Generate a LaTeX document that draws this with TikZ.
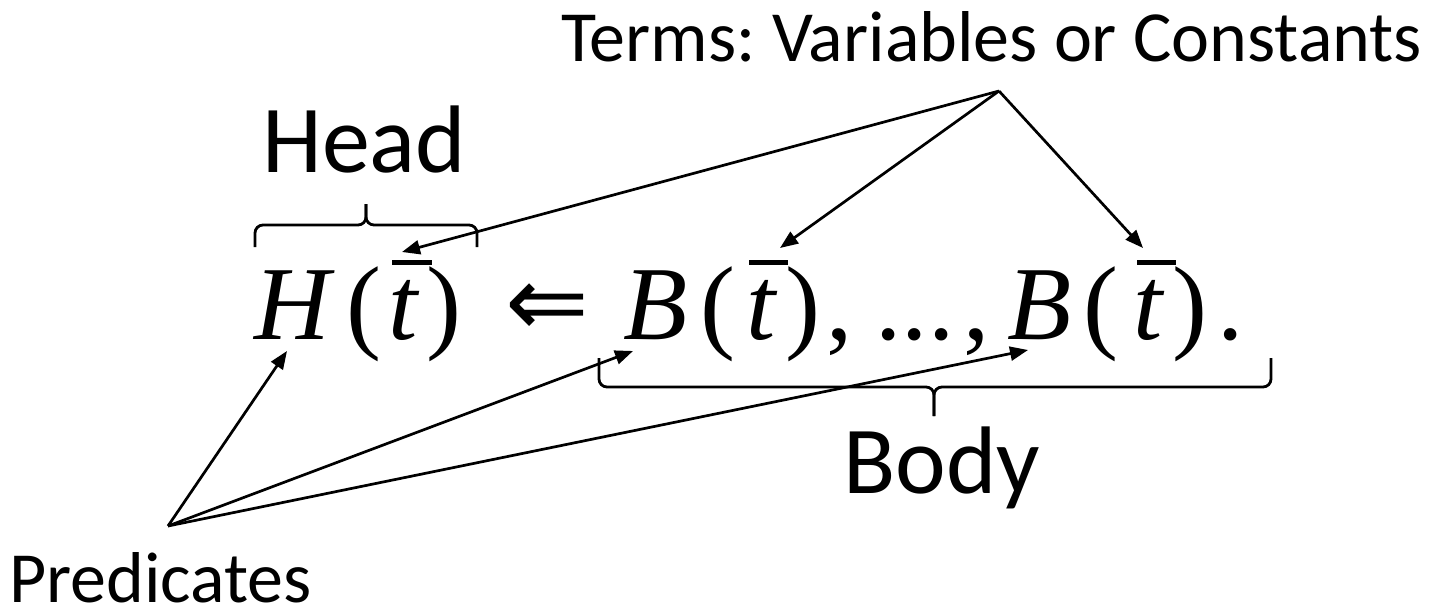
\documentclass[tikz,border=0pt]{standalone}
\usepackage{fontspec}
\setmainfont{Carlito}
\newfontfamily\formfont{Liberation Serif}
\newfontfamily\symfont{DejaVu Sans}
\frenchspacing
\usetikzlibrary{arrows.meta}
\tikzset{
  lbl/.style={inner sep=0pt, anchor=base west, font=\fontsize{72}{72}\selectfont},
  biglbl/.style={inner sep=0pt, anchor=base west, font=\fontsize{96}{96}\selectfont},
  glyph/.style={inner sep=0pt, anchor=base, font=\formfont\fontsize{105}{105}\selectfont},
  iglyph/.style={glyph, font=\formfont\itshape\fontsize{105}{105}\selectfont},
  arr/.style={line width=2.7pt, -{Triangle[length=18pt,width=14pt]}},
  brc/.style={line width=2.8pt, rounded corners=8pt},
  tbar/.style={line width=5pt}
}
\begin{document}
\begin{tikzpicture}[x=1pt,y=-1pt]
\useasboundingbox (0,0) rectangle (1447,610);
% labels
\node[lbl] (terms) at (561,62) {Terms: Variables or Constants};
\node[biglbl] (head) at (262,172) {Head};
\node[biglbl] (body) at (843,493) {Body};
\node[lbl] (preds) at (9,602) {Predicates};
% formula
\node[iglyph] (H) at (292,339) {H};
\node[glyph] (p1) at (364,339) {(};
\node[iglyph] (t1) at (403,339) {t};
\node[glyph] (q1) at (444,339) {)};
\node[inner sep=0pt, anchor=center, font=\symfont\fontsize{100}{100}\selectfont] (impl) at (547,310) {⇐};
\node[iglyph] (B1) at (656,339) {B};
\node[glyph] (p2) at (718,339) {(};
\node[iglyph] (t2) at (761,339) {t};
\node[glyph] (q2) at (803,339) {)};
\node[glyph] (c1) at (840,339) {,};
\node[glyph] (dots) at (915,339) {...};
\node[glyph] (c2) at (977,339) {,};
\node[iglyph] (B2) at (1040,339) {B};
\node[glyph] (p3) at (1101,339) {(};
\node[iglyph] (t3) at (1148,339) {t};
\node[glyph] (q3) at (1190,339) {)};
\node[glyph] (per) at (1231,339) {.};
% overbars
\draw[tbar] (392,262) -- (432,262);
\draw[tbar] (749,262) -- (788,262);
\draw[tbar] (1137,262) -- (1176,262);
% braces
\draw[brc] (255,247) -- (255,225) -- (366,225) -- (366,204);
\draw[brc] (477,247) -- (477,225) -- (366,225) -- (366,204);
\draw[brc] (599,358) -- (599,387) -- (934,387) -- (934,416);
\draw[brc] (1271,358) -- (1271,387) -- (934,387) -- (934,416);
% connector points
\coordinate (ta) at (999,91);
\coordinate (ta1) at (402,252);
\coordinate (ta2) at (780,248);
\coordinate (ta3) at (1143,248);
\coordinate (pa) at (168,526);
\coordinate (pa1) at (287,351);
\coordinate (pa2) at (633,351);
\coordinate (pa3) at (1028,350);
\draw[arr] (ta) -- (ta1);
\draw[arr] (ta) -- (ta2);
\draw[arr] (ta) -- (ta3);
\draw[arr] (pa) -- (pa1);
\draw[arr] (pa) -- (pa2);
\draw[arr] (pa) -- (pa3);
\end{tikzpicture}
\end{document}
